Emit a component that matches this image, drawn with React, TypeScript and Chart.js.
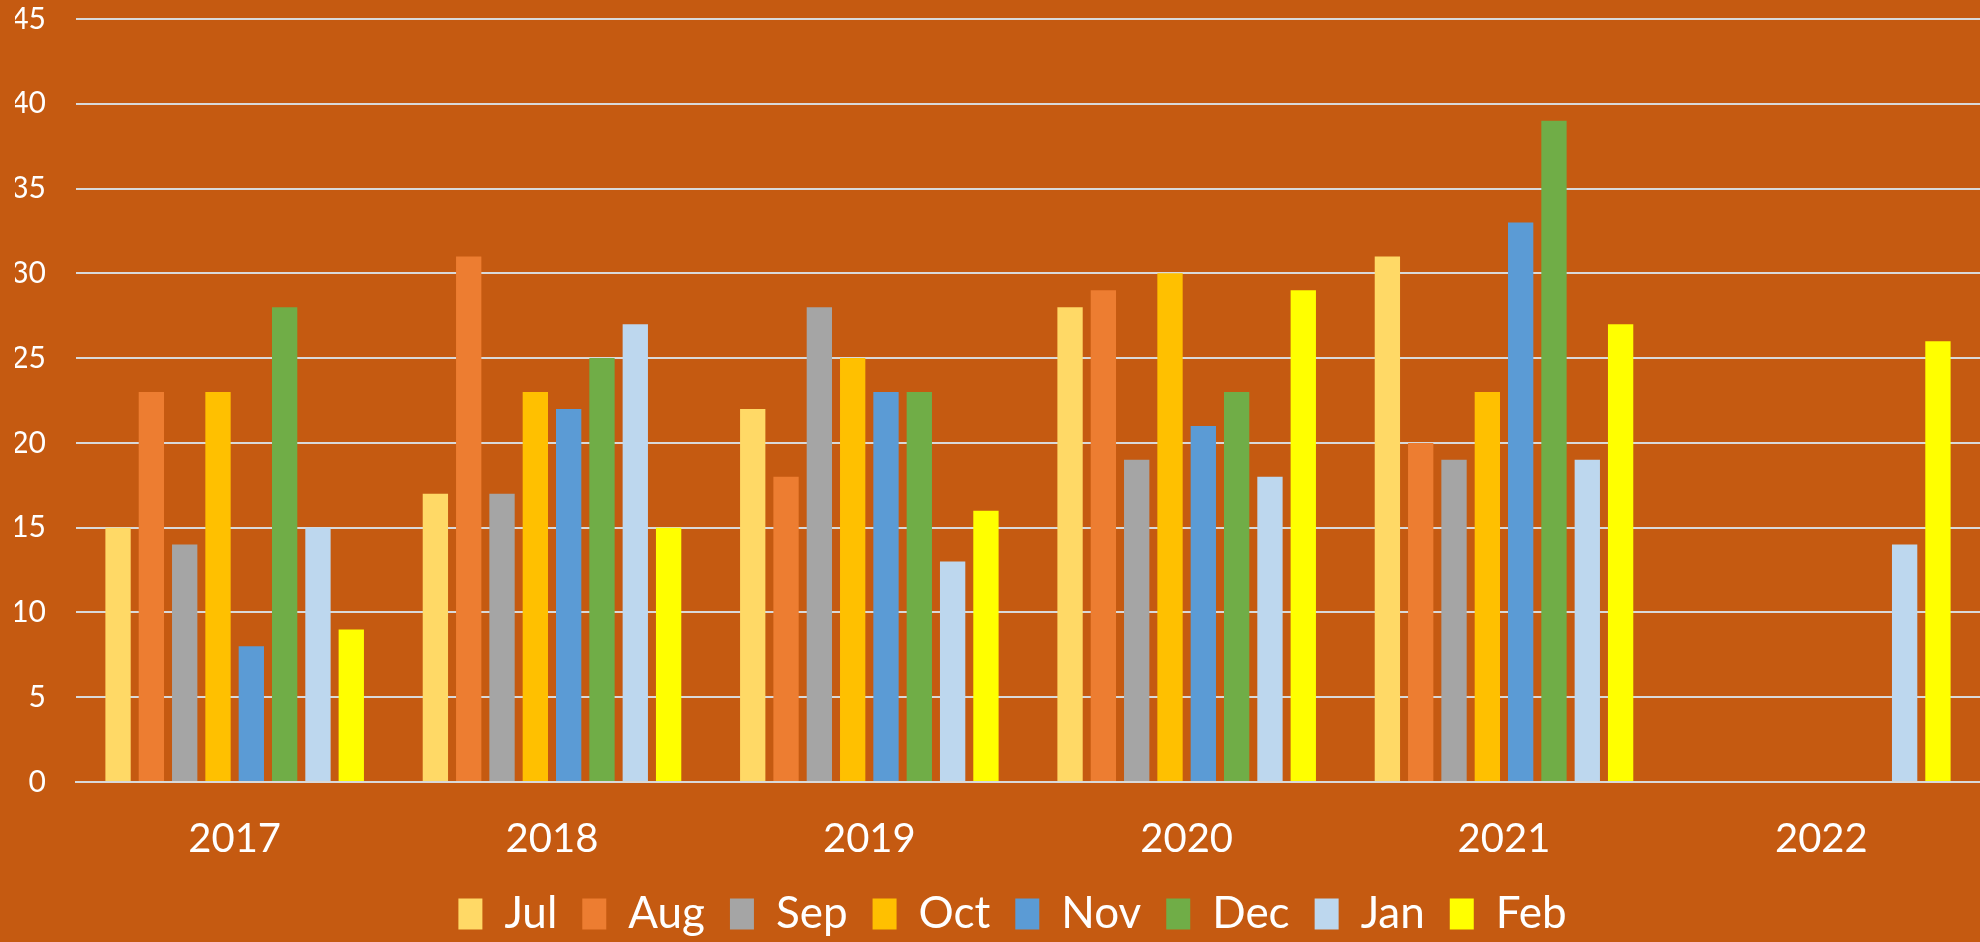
import React, { useEffect, useRef } from "react";
import { Chart, registerables } from "chart.js";

Chart.register(...registerables);

const years = ["2017", "2018", "2019", "2020", "2021", "2022"];
const months = ["Jul", "Aug", "Sep", "Oct", "Nov", "Dec", "Jan", "Feb"];
const colors = ["#FFD966", "#ED7D31", "#A5A5A5", "#FFC000", "#5B9BD5", "#70AD47", "#BDD7EE", "#FFFF00"];

const julValues = [15, 17, 22, 28, 31, null];
const augValues = [23, 31, 18, 29, 20, null];
const sepValues = [14, 17, 28, 19, 19, null];
const octValues = [23, 23, 25, 30, 23, null];
const novValues = [8, 22, 23, 21, 33, null];
const decValues = [28, 25, 23, 23, 39, null];
const janValues = [15, 27, 13, 18, 19, 14];
const febValues = [9, 15, 16, 29, 27, 26];

const seriesValues = [julValues, augValues, sepValues, octValues, novValues, decValues, janValues, febValues];
const yTicks = [0, 5, 10, 15, 20, 25, 30, 35, 40, 45];

const FONT = "Lato, 'Open Sans', sans-serif";
const BG = "#C55A11";

export default function App() {
  const ref = useRef<HTMLCanvasElement | null>(null);
  useEffect(() => {
    document.body.style.margin = "0";
    document.body.style.background = BG;
    const bgPlugin = {
      id: "bg",
      beforeDraw(chart: any) {
        const ctx = chart.ctx;
        ctx.save();
        ctx.fillStyle = BG;
        ctx.fillRect(0, 0, chart.width, chart.height);
        ctx.restore();
      },
    };
    const legendTweak = {
      id: "legendTweak",
      beforeLayout(chart: any) {
        const lg = chart.legend;
        if (lg && !lg.__patched) {
          const orig = lg.fit.bind(lg);
          lg.fit = function () {
            orig();
            this.height = 75;
          };
          lg.__patched = true;
        }
      },
      afterLayout(chart: any) {
        const lg = chart.legend;
        if (lg) {
          lg.left += 15;
          lg.right += 15;
        }
      },
    };
    const chart = new Chart(ref.current!, {
      type: "bar",
      data: {
        labels: years,
        datasets: months.map((m, i) => ({
          label: m,
          data: seriesValues[i],
          backgroundColor: colors[i],
          borderWidth: 0,
          categoryPercentage: 0.84,
          barPercentage: 0.76,
        })),
      },
      options: {
        animation: false,
        responsive: false,
        maintainAspectRatio: false,
        layout: { padding: { left: 15, right: 0, top: 0, bottom: 0 } },
        plugins: {
          legend: {
            position: "bottom",
            labels: {
              color: "#FFFFFF",
              font: { family: FONT, size: 44 },
              boxWidth: 24,
              boxHeight: 31,
              padding: 25,
            },
          },
          tooltip: { enabled: false },
        },
        scales: {
          x: {
            grid: { display: false, drawTicks: false },
            border: { display: true, color: "#D9D9D9", width: 2 },
            ticks: { color: "#FFFFFF", font: { family: FONT, size: 40 }, padding: 33, maxRotation: 0 },
            afterFit: (axis: any) => {
              axis.paddingLeft = 0;
              axis.paddingRight = 0;
              axis.height = 85;
            },
          },
          y: {
            min: 0,
            max: 45,
            afterBuildTicks: (axis: any) => {
              axis.ticks = yTicks.map((v) => ({ value: v }));
            },
            afterFit: (axis: any) => {
              axis.width = 61;
              axis.paddingTop = 19;
              axis.paddingBottom = 0;
            },
            grid: { color: "#D9D9D9", lineWidth: 2, drawTicks: false },
            border: { display: false },
            ticks: { color: "#FFFFFF", font: { family: FONT, size: 30 }, padding: 30 },
          },
        },
      },
      plugins: [bgPlugin, legendTweak],
    });
    return () => chart.destroy();
  }, []);
  return <canvas ref={ref} width={1980} height={942} style={{ display: "block" }} />;
}
